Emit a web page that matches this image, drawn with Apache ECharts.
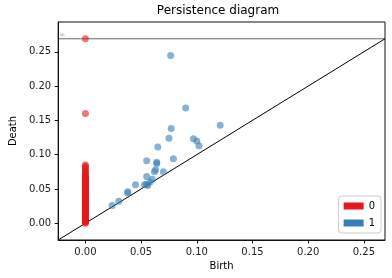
<!DOCTYPE html>
<html>
<head>
<meta charset="utf-8">
<script src="https://cdn.jsdelivr.net/npm/echarts@6/dist/echarts.min.js"></script>
<style>html,body{margin:0;padding:0;background:#fff;}#c{width:392px;height:278px;}</style>
</head>
<body>
<div id="c"></div>
<script>
// ---- data ----
var dim0Deaths = ['inf',0.160,0.085,0.083,0.081,0.079,0.077,0.075,0.073,0.071,0.069,0.068,0.067,0.066,0.065,0.064,0.063,0.062,0.061,0.060,0.059,0.058,0.057,0.056,0.055,0.054,0.053,0.052,0.051,0.050,0.049,0.048,0.047,0.046,0.045,0.044,0.043,0.042,0.041,0.040,0.039,0.038,0.037,0.036,0.035,0.034,0.033,0.032,0.031,0.030,0.029,0.028,0.027,0.026,0.025,0.024,0.023,0.022,0.021,0.020,0.019,0.018,0.017,0.016,0.015,0.014,0.013,0.012,0.011,0.010,0.009,0.008,0.007,0.006,0.005,0.004,0.003,0.002,0.001,0.000];
var dim0Births = dim0Deaths.map(function(){ return 0; });
var dim1Births = [0.0765,0.090,0.077,0.075,0.065,0.097,0.100,0.102,0.121,0.079,0.055,0.064,0.064,0.063,0.062,0.070,0.055,0.060,0.058,0.055,0.053,0.056,0.045,0.038,0.038,0.030,0.024];
var dim1Deaths = [0.2445,0.168,0.138,0.124,0.111,0.123,0.120,0.113,0.143,0.094,0.091,0.089,0.087,0.078,0.075,0.075,0.068,0.064,0.060,0.057,0.056,0.055,0.056,0.046,0.044,0.032,0.026];
var xTicks = [0,0.05,0.10,0.15,0.20,0.25];
var yTicks = [0,0.05,0.10,0.15,0.20,0.25];
var seriesNames = ['0','1'];
var colors = ['#e41a1c','#377eb8'];

// ---- gudhi-like ranges ----
var finiteDeaths = dim0Deaths.filter(function(d){return d!=='inf';}).concat(dim1Deaths);
var allBirths = dim0Births.concat(dim1Births);
var minBirth = Math.min.apply(null, allBirths);
var maxDeath = Math.max.apply(null, finiteDeaths);
var delta = (maxDeath - minBirth) * 0.1;
var infinity = maxDeath + delta;
var axisStart = minBirth - delta;

function pts(b, d){ return b.map(function(v,i){ return [v, d[i]==='inf' ? infinity : d[i]]; }); }

var font = 'DejaVu Sans';
var chart = echarts.init(document.getElementById('c'), null, {renderer:'canvas'});
chart.setOption({
  animation:false,
  backgroundColor:'#fff',
  title:{text:'Persistence diagram', left:218, top:5, textAlign:'center', padding:0,
    textStyle:{fontFamily:font, fontSize:12, fontWeight:'normal', color:'#000'}},
  grid:{left:51, right:7, top:22, bottom:38, show:true, borderColor:'#111', borderWidth:1, backgroundColor:'transparent'},
  legend:{
    orient:'vertical', right:11, bottom:45, icon:'rect', itemWidth:20, itemHeight:7, itemGap:7,
    padding:[5,6,5,5], backgroundColor:'rgba(255,255,255,0.85)', borderColor:'#ccc', borderWidth:1, borderRadius:3,
    textStyle:{fontFamily:font, fontSize:10, color:'#000'},
    data:[{name:seriesNames[0], itemStyle:{color:colors[0], opacity:1}},{name:seriesNames[1], itemStyle:{color:colors[1], opacity:1}}]
  },
  xAxis:{type:'value', min:axisStart, max:infinity, name:'Birth', nameLocation:'middle', nameGap:21,
    nameTextStyle:{fontFamily:font, fontSize:10, color:'#000'},
    splitLine:{show:false}, axisLine:{show:true, onZero:false, lineStyle:{color:'#111', width:1}},
    axisTick:{show:true, length:3.5, customValues:xTicks, lineStyle:{color:'#111'}},
    axisLabel:{customValues:xTicks, margin:7, fontFamily:font, fontSize:10, color:'#222', formatter:function(v){return v.toFixed(2);}}},
  yAxis:{type:'value', min:axisStart, max:infinity+delta, name:'Death', nameLocation:'middle', nameGap:35,
    nameTextStyle:{fontFamily:font, fontSize:10, color:'#000'},
    splitLine:{show:false}, axisLine:{show:true, onZero:false, lineStyle:{color:'#111', width:1}},
    axisTick:{show:true, length:3.5, customValues:yTicks, lineStyle:{color:'#111'}},
    axisLabel:{customValues:yTicks, margin:7, fontFamily:font, fontSize:10, color:'#222', formatter:function(v){return v.toFixed(2);}}},
  series:[
    {type:'line', silent:true, symbol:'none', data:[[axisStart,axisStart],[infinity,infinity]], lineStyle:{color:'#000', width:1}, z:1},
    {type:'line', silent:true, symbol:'none', data:[[axisStart,infinity],[infinity,infinity]], lineStyle:{color:'#000', width:1, opacity:0.6}, z:1},
    {type:'scatter', silent:true, symbolSize:0, itemStyle:{color:'rgba(0,0,0,0)'}, data:[[axisStart,infinity]],
      label:{show:true, formatter:'\u221e', position:'right', distance:1, offset:[0,-4], fontSize:7, color:'#888', fontFamily:font}, z:2},
    {name:seriesNames[0], type:'scatter', symbolSize:7, data:pts(dim0Births, dim0Deaths), itemStyle:{color:colors[0], opacity:0.6}, z:3},
    {name:seriesNames[1], type:'scatter', symbolSize:7, data:pts(dim1Births, dim1Deaths), itemStyle:{color:colors[1], opacity:0.6}, z:3}
  ]
});
</script>
</body>
</html>
